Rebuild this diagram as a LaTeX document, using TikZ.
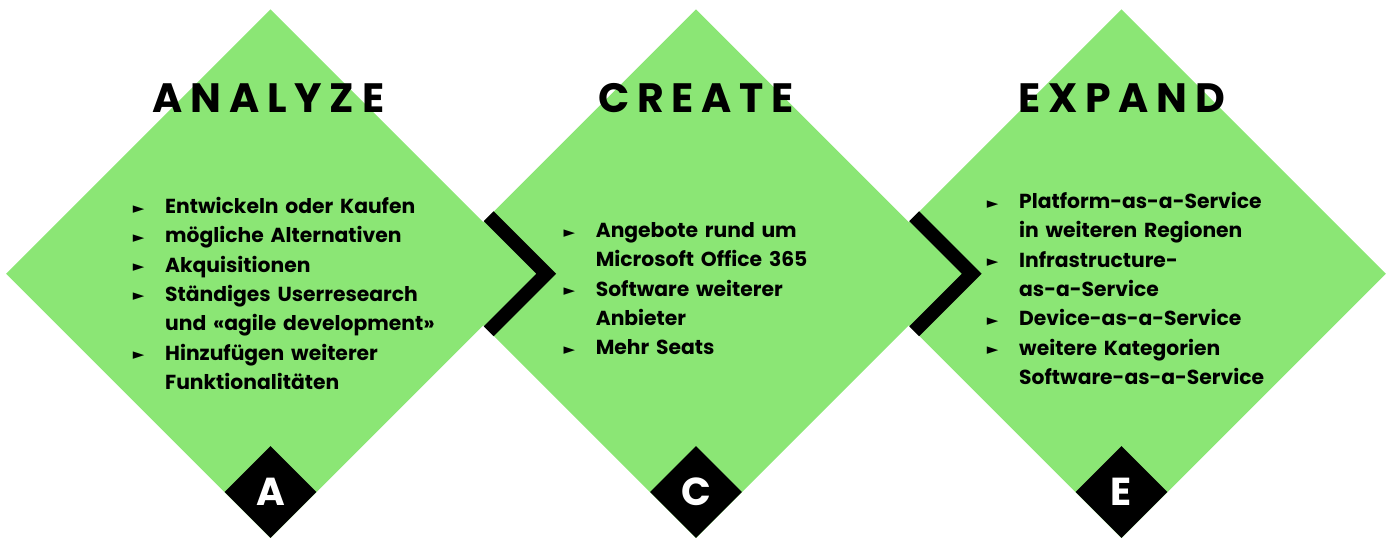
\documentclass[tikz,border=0pt]{standalone}
\usepackage{fontspec}
\setmainfont{Poppins}
\newfontfamily\symfont{DejaVu Sans}
\usetikzlibrary{shapes.geometric,calc}
\definecolor{leaf}{RGB}{139,230,117}
\newcommand{\bl}{\makebox[32.3pt][l]{\raisebox{0.5pt}{\symfont\fontsize{15}{15}\selectfont ►}}}
\newcommand{\nb}{\hspace*{32.3pt}}
\newcommand{\fs}{\rule{0pt}{22pt}}
\begin{document}
\begin{tikzpicture}[x=1pt,y=-1pt,
  greendia/.style={diamond, aspect=1, fill=leaf, minimum width=529pt, minimum height=529pt, inner sep=0pt},
  blackdia/.style={diamond, aspect=1, fill=black, minimum width=92pt, minimum height=92pt, inner sep=0pt, text=white, font=\bfseries\fontsize{39}{39}\selectfont},
  title/.style={anchor=base, inner sep=0pt, font=\bfseries\fontsize{41}{41}\selectfont\addfontfeature{LetterSpace=19}},
  body/.style={anchor=north west, inner sep=0pt, text width=340pt, align=left, font=\bfseries\fontsize{20.3}{29.3}\selectfont},
  chev/.style={draw=black, line width=14pt, miter limit=10, line join=miter, line cap=butt}
]
\useasboundingbox (0,0) rectangle (1392,538);
% green diamonds
\node[greendia] (g1) at (270.5,273.75) {};
\node[greendia] (g2) at (696,273.75) {};
\node[greendia] (g3) at (1121.5,273.75) {};
% chevrons
\draw[chev] ($(g1.east)+(-46.5,-57.5)$) -- ($(g1.east)+(11,0)$) -- ($(g1.east)+(-46.5,57.5)$);
\draw[chev] ($(g2.east)+(-46.5,-57.5)$) -- ($(g2.east)+(11,0)$) -- ($(g2.east)+(-46.5,57.5)$);
% black letter diamonds
\node[blackdia] (b1) at (270.5,492) {A};
\node[blackdia] (b2) at (696,492) {C};
\node[blackdia] (b3) at (1121.5,492) {E};
% titles
\node[title] (h1) at (268.5,112.7) {ANALYZE};
\node[title] (h2) at (696,112.7) {CREATE};
\node[title] (h3) at (1121.5,112.7) {EXPAND};
% texts
\node[body] (t1) at (132.7,191.3) {\noindent\fs\bl Entwickeln oder Kaufen\\
\bl mögliche Alternativen\\
\bl Akquisitionen\\
\bl Ständiges Userresearch\\
\nb und «agile development»\\
\bl Hinzufügen weiterer\\
\nb Funktionalitäten};
\node[body] (t2) at (563.3,215.3) {\noindent\fs\bl Angebote rund um\\
\nb Microsoft Office 365\\
\bl Software weiterer\\
\nb Anbieter\\
\bl Mehr Seats};
\node[body] (t3) at (986.7,186.3) {\noindent\fs\bl Platform-as-a-Service\\
\nb in weiteren Regionen\\
\bl Infrastructure-\\
\nb as-a-Service\\
\bl Device-as-a-Service\\
\bl weitere Kategorien\\
\nb Software-as-a-Service};
\end{tikzpicture}
\end{document}
